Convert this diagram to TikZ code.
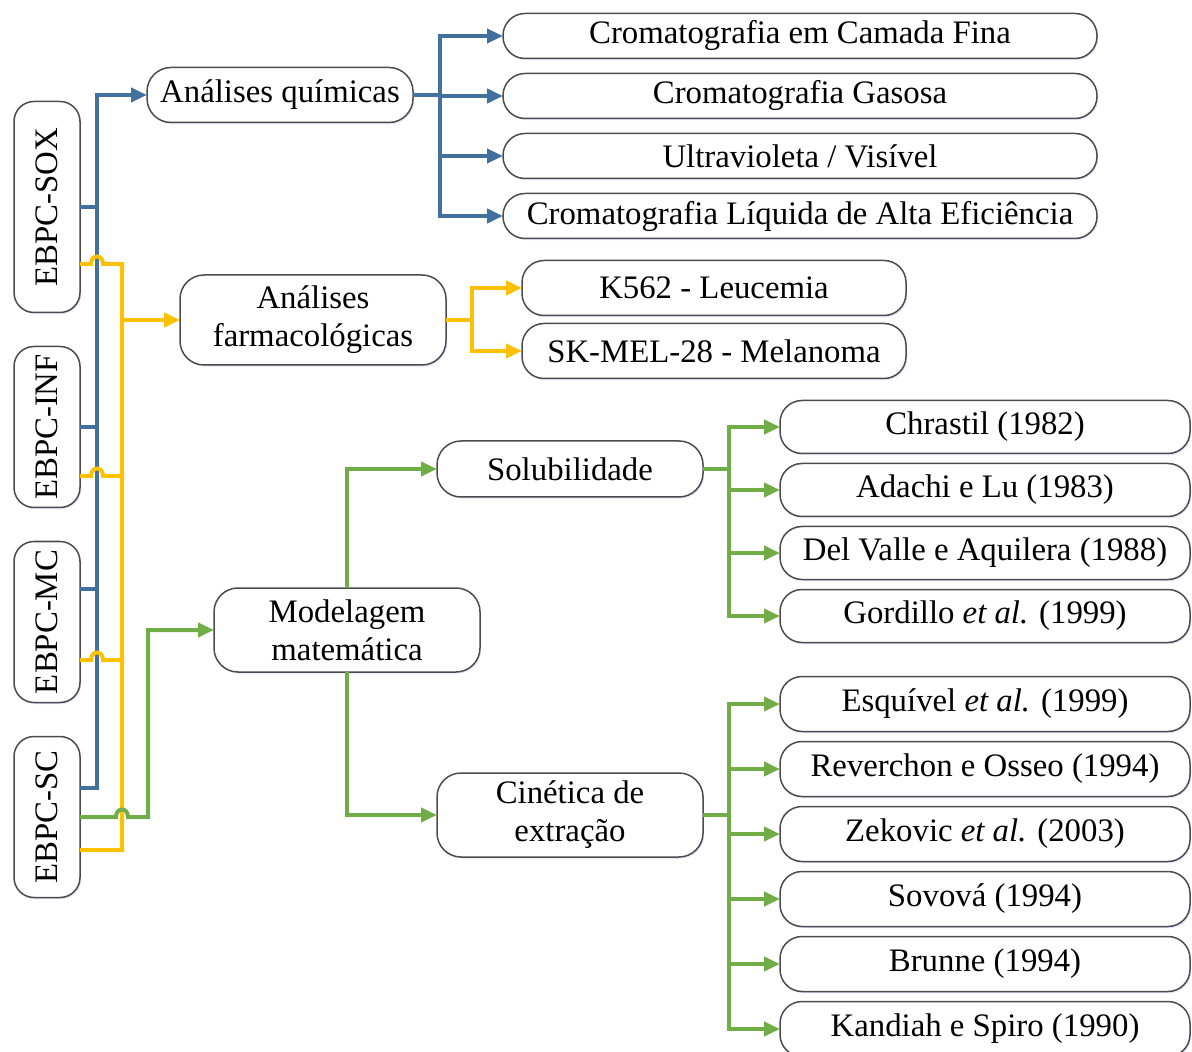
\documentclass[tikz,border=0pt]{standalone}
\usepackage{fontspec}
\setmainfont{Liberation Serif}
\usepackage{graphicx}
\usetikzlibrary{positioning,arrows.meta,shadows}
\definecolor{lblue}{HTML}{41719C}
\definecolor{lyellow}{HTML}{FFC000}
\definecolor{lgreen}{HTML}{70AD47}

\begin{document}
\begin{tikzpicture}[x=0.5pt, y=-0.5pt, font=\fontsize{16.4}{19}\selectfont, node distance=5pt,
  box/.style={draw=black!70, line width=0.75pt, rounded corners=12pt, fill=white, align=center, inner sep=1pt, outer sep=0pt,
    drop shadow={shadow xshift=0.6pt, shadow yshift=-0.8pt, fill=blue!30, opacity=0.35}},
  src/.style={box, rounded corners=10pt, minimum width=33pt, minimum height=80.5pt},
  mid/.style={box, minimum width=133pt},
  leaf/.style={box, rounded corners=11pt},
  bl/.style={line width=2pt, draw=lblue},
  yl/.style={line width=2pt, draw=lyellow},
  gl/.style={line width=2pt, draw=lgreen},
  tip/.style={-{Triangle[length=8pt,width=7pt]}}]
\useasboundingbox (0,0) rectangle (1192,1052);
% sources
\node[src, minimum height=105.5pt] (sox) at (47,207) {\rotatebox{90}{EBPC-SOX}};
\node[src] (inf) at (47,427) {\rotatebox{90}{EBPC-INF}};
\node[src] (mc) at (47,622) {\rotatebox{90}{EBPC-MC}};
\node[src] (sc) at (47,817) {\rotatebox{90}{EBPC-SC}};
% middle column
\node[mid, minimum height=27.5pt] (aq) at (280,95) {Análises químicas};
\node[mid, minimum height=45pt] (farm) at (313,320) {Análises\\farmacológicas};
\node[mid, minimum height=42pt] (mm) at (347,630) {Modelagem\\matemática};
\node[mid, minimum height=28pt] (sol) at (570,469) {Solubilidade};
\node[mid, minimum height=42pt] (cin) at (570,815) {Cinética de\\extração};
% chemical analyses
\node[leaf, minimum width=297pt, minimum height=22.5pt] (c1) at (800,36) {Cromatografia em Camada Fina};
\node[leaf, minimum width=297pt, minimum height=22.5pt, below=7.5pt of c1] (c2) {Cromatografia Gasosa};
\node[leaf, minimum width=297pt, minimum height=22.5pt, below=7.5pt of c2] (c3) {Ultravioleta / Visível};
\node[leaf, minimum width=297pt, minimum height=22.5pt, below=7.5pt of c3] (c4) {Cromatografia Líquida de Alta Eficiência};
% pharmacological analyses
\node[leaf, minimum width=192pt, minimum height=27.5pt] (k1) at (714,288) {K562 - Leucemia};
\node[leaf, minimum width=192pt, minimum height=27.5pt, below=4pt of k1] (k2) {SK-MEL-28 - Melanoma};
% solubility models
\node[leaf, minimum width=205pt, minimum height=26.5pt] (s1) at (985,427) {Chrastil (1982)};
\node[leaf, minimum width=205pt, minimum height=26.5pt, below=of s1] (s2) {Adachi e Lu (1983)};
\node[leaf, minimum width=205pt, minimum height=26.5pt, below=of s2] (s3) {Del Valle e Aquilera (1988)};
\node[leaf, minimum width=205pt, minimum height=26.5pt, below=of s3] (s4) {Gordillo \textit{et al.} (1999)};
% extraction kinetics models
\node[leaf, minimum width=205pt, minimum height=27.5pt] (e1) at (985,704) {Esquível \textit{et al.} (1999)};
\node[leaf, minimum width=205pt, minimum height=27.5pt, below=of e1] (e2) {Reverchon e Osseo (1994)};
\node[leaf, minimum width=205pt, minimum height=27.5pt, below=of e2] (e3) {Zekovic \textit{et al.} (2003)};
\node[leaf, minimum width=205pt, minimum height=27.5pt, below=of e3] (e4) {Sovová (1994)};
\node[leaf, minimum width=205pt, minimum height=27.5pt, below=of e4] (e5) {Brunne (1994)};
\node[leaf, minimum width=205pt, minimum height=27.5pt, below=of e5] (e6) {Kandiah e Spiro (1990)};
% bus lines
\coordinate (bx) at (97,0);
\coordinate (yx) at (122,0);
\coordinate (qx) at (440,0);
\coordinate (fx) at (472,0);
\coordinate (sx) at (729,0);
% blue
\draw[bl, tip] ([yshift=14.5pt]sc.east) -| (bx |- aq.west) -- (aq.west);
\draw[bl] (sox.east) -- (bx |- sox.east);
\draw[bl] (inf.east) -- (bx |- inf.east);
\draw[bl] ([yshift=16.5pt]mc.east) -- ++(17,0);
\foreach \n in {c1,c2,c3,c4} \draw[bl, tip] (aq.east) -- (qx |- aq.east) |- (\n.west);
% yellow
\draw[yl] ([yshift=-28.5pt]sox.east) -- ++(11,0) .. controls +(0,-10) and +(0,-10) .. ++(12,0) -- ++(19,0) |- ([yshift=-16.5pt]sc.east);
\draw[yl] ([yshift=-24.5pt]inf.east) -- ++(11,0) .. controls +(0,-10) and +(0,-10) .. ++(12,0) -- ++(19,0);
\draw[yl] ([yshift=-19pt]mc.east) -- ++(11,0) .. controls +(0,-10) and +(0,-10) .. ++(12,0) -- ++(19,0);
\draw[yl, tip] (yx |- farm.west) -- (farm.west);
\foreach \n in {k1,k2} \draw[yl, tip] (farm.east) -- (fx |- farm.east) |- (\n.west);
% green
\draw[gl, tip] (sc.east) -- ++(36,0) .. controls +(0,-10) and +(0,-10) .. ++(12,0) -- ++(20,0) |- (mm.west);
\draw[gl, tip] (mm.north) |- (sol.west);
\draw[gl, tip] (mm.south) |- (cin.west);
\foreach \n in {s1,s2,s3,s4} \draw[gl, tip] (sol.east) -- (sx |- sol.east) |- (\n.west);
\foreach \n in {e1,e2,e3,e4,e5,e6} \draw[gl, tip] (cin.east) -- (sx |- cin.east) |- (\n.west);
\end{tikzpicture}
\end{document}
